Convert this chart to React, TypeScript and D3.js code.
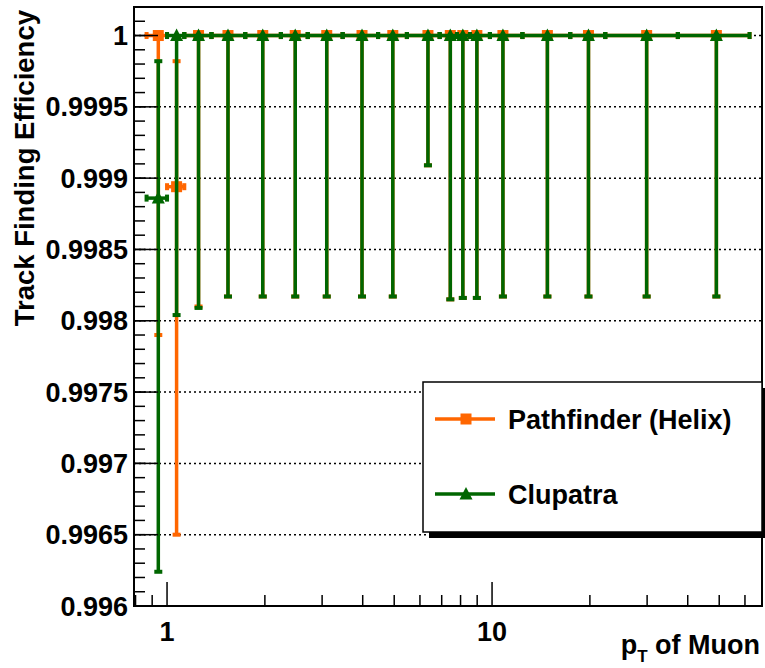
import React, { useRef, useEffect } from "react"
import * as d3 from "d3"

// pT bin centres and bin edges (GeV)
const ptValues = [0.94, 1.07, 1.25, 1.54, 1.97, 2.48, 3.1, 3.98, 4.95, 6.35, 7.44, 8.13, 8.98, 10.8, 14.8, 19.8, 29.9, 49]
const ptEdges = [0.865, 1.0, 1.13, 1.37, 1.74, 2.24, 2.71, 3.47, 4.46, 5.47, 6.9, 7.8, 8.55, 9.85, 12.4, 17.4, 22.3, 37.3, 62]

// Pathfinder (Helix)
const pfEff = [1, 0.99894, 1, 1, 1, 1, 1, 1, 1, 1, 1, 1, 1, 1, 1, 1, 1, 1]
const pfLow = [0.9979, 0.9965, 0.9981, 0.99817, 0.99817, 0.99817, 0.99817, 0.99817, 0.99817, 0.99909, 0.99815, 0.99816, 0.99816, 0.99817, 0.99817, 0.99817, 0.99817, 0.99817]
const pfHigh = [1, 0.99982, 1, 1, 1, 1, 1, 1, 1, 1, 1, 1, 1, 1, 1, 1, 1, 1]

// Clupatra
const clEff = [0.99886, 1, 1, 1, 1, 1, 1, 1, 1, 1, 1, 1, 1, 1, 1, 1, 1, 1]
const clLow = [0.99624, 0.99804, 0.99809, 0.99817, 0.99817, 0.99817, 0.99817, 0.99817, 0.99817, 0.99909, 0.99815, 0.99816, 0.99816, 0.99817, 0.99817, 0.99817, 0.99817, 0.99817]
const clHigh = [0.99982, 1, 1, 1, 1, 1, 1, 1, 1, 1, 1, 1, 1, 1, 1, 1, 1, 1]

const yTicks = [0.996, 0.9965, 0.997, 0.9975, 0.998, 0.9985, 0.999, 0.9995, 1]
const yTickLabels = ["0.996", "0.9965", "0.997", "0.9975", "0.998", "0.9985", "0.999", "0.9995", "1"]
const xTicks = [1, 10]
const xTickLabels = ["1", "10"]
const xMinorTicks = [0.8, 0.9, 2, 3, 4, 5, 6, 7, 8, 9, 20, 30, 40, 50, 60]

const ORANGE = "#ff6600"
const GREEN = "#006600"
const FONT = "'Liberation Sans', Arial, Helvetica, sans-serif"

const App = () => {
  const svgRef = useRef(null)

  useEffect(() => {
    const W = 765
    const H = 668
    const left = 134, right = 762, top = 7, bottom = 606

    const svg = d3.select(svgRef.current).attr("width", W).attr("height", H)
    svg.selectAll("*").remove()

    const x = d3.scaleLog().domain([0.7913, 67.7]).range([left, right])
    const y = d3.scaleLinear().domain([0.996, 1.0002]).range([bottom, top])

    svg.append("rect").attr("width", W).attr("height", H).attr("fill", "white")

    // grid
    svg.append("g")
      .selectAll("line")
      .data(yTicks)
      .enter()
      .append("line")
      .attr("x1", left).attr("x2", right)
      .attr("y1", (d) => y(d)).attr("y2", (d) => y(d))
      .attr("stroke", "black")
      .attr("stroke-width", 1.5)
      .attr("stroke-dasharray", "2,3")

    // data
    const drawSeries = (eff, lo, hi, color, marker) => {
      const g = svg.append("g")
      ptValues.forEach((pt, i) => {
        const cx = x(pt)
        const cy = y(eff[i])
        const x0 = x(ptEdges[i])
        const x1 = x(ptEdges[i + 1])
        // horizontal error bar
        g.append("line").attr("x1", x0).attr("x2", x1).attr("y1", cy).attr("y2", cy)
          .attr("stroke", color).attr("stroke-width", 3.5)
        g.append("rect").attr("x", x0 - 2).attr("y", cy - 3.5).attr("width", 4).attr("height", 7).attr("fill", color)
        g.append("rect").attr("x", x1 - 2).attr("y", cy - 3.5).attr("width", 4).attr("height", 7).attr("fill", color)
        // vertical error bar
        g.append("line").attr("x1", cx).attr("x2", cx).attr("y1", y(hi[i])).attr("y2", y(lo[i]))
          .attr("stroke", color).attr("stroke-width", 3.5)
        if (lo[i] < eff[i]) {
          g.append("rect").attr("x", cx - 4).attr("y", y(lo[i]) - 2).attr("width", 8).attr("height", 4).attr("fill", color)
        }
        if (hi[i] > eff[i]) {
          g.append("rect").attr("x", cx - 4).attr("y", y(hi[i]) - 2).attr("width", 8).attr("height", 4).attr("fill", color)
        }
        marker(g, cx, cy)
      })
    }

    const square = (g, cx, cy) =>
      g.append("rect").attr("x", cx - 5.5).attr("y", cy - 5.5).attr("width", 11).attr("height", 11).attr("fill", ORANGE)
    const triangle = (g, cx, cy) =>
      g.append("path").attr("d", `M${cx},${cy - 7}L${cx + 6.5},${cy + 5.5}L${cx - 6.5},${cy + 5.5}Z`).attr("fill", GREEN)

    drawSeries(pfEff, pfLow, pfHigh, ORANGE, square)
    drawSeries(clEff, clLow, clHigh, GREEN, triangle)

    // frame
    svg.append("rect")
      .attr("x", left).attr("y", top)
      .attr("width", right - left).attr("height", bottom - top)
      .attr("fill", "none").attr("stroke", "black").attr("stroke-width", 2)

    // y ticks
    const yMinor = d3.range(0, 43).map((i) => 0.996 + i * 0.0001)
    svg.append("g").selectAll("line").data(yMinor).enter().append("line")
      .attr("x1", left).attr("x2", left + 11)
      .attr("y1", (d) => y(d)).attr("y2", (d) => y(d))
      .attr("stroke", "black").attr("stroke-width", 1.5)
    svg.append("g").selectAll("line").data(yTicks).enter().append("line")
      .attr("x1", left).attr("x2", left + 24)
      .attr("y1", (d) => y(d)).attr("y2", (d) => y(d))
      .attr("stroke", "black").attr("stroke-width", 1.5)
    svg.append("g").selectAll("text").data(yTicks).enter().append("text")
      .attr("x", left - 6).attr("y", (d) => y(d) + 9.5)
      .attr("text-anchor", "end")
      .attr("font-family", FONT).attr("font-weight", "bold").attr("font-size", 27)
      .text((d, i) => yTickLabels[i])

    // x ticks
    svg.append("g").selectAll("line").data(xMinorTicks).enter().append("line")
      .attr("x1", (d) => x(d)).attr("x2", (d) => x(d))
      .attr("y1", bottom).attr("y2", bottom - 11)
      .attr("stroke", "black").attr("stroke-width", 1.5)
    svg.append("g").selectAll("line").data(xTicks).enter().append("line")
      .attr("x1", (d) => x(d)).attr("x2", (d) => x(d))
      .attr("y1", bottom).attr("y2", bottom - 24)
      .attr("stroke", "black").attr("stroke-width", 1.5)
    svg.append("g").selectAll("text").data(xTicks).enter().append("text")
      .attr("x", (d) => x(d)).attr("y", bottom + 35)
      .attr("text-anchor", "middle")
      .attr("font-family", FONT).attr("font-weight", "bold").attr("font-size", 27)
      .text((d, i) => xTickLabels[i])

    // axis titles
    svg.append("text")
      .attr("transform", `translate(34,10) rotate(-90)`)
      .attr("text-anchor", "end")
      .attr("font-family", FONT).attr("font-weight", "bold").attr("font-size", 27.5)
      .text("Track Finding Efficiency")

    const xt = svg.append("text")
      .attr("x", 760).attr("y", 654)
      .attr("text-anchor", "end")
      .attr("font-family", FONT).attr("font-weight", "bold").attr("font-size", 27)
    xt.append("tspan").text("p")
    xt.append("tspan").attr("dy", 8).attr("font-size", 17).text("T")
    xt.append("tspan").attr("dy", -8).text(" of Muon")

    // legend
    const lx = 423, ly = 382, lw = 339, lh = 150
    svg.append("rect").attr("x", lx + 6).attr("y", ly + 6).attr("width", lw).attr("height", lh).attr("fill", "black")
    svg.append("rect").attr("x", lx).attr("y", ly).attr("width", lw).attr("height", lh)
      .attr("fill", "white").attr("stroke", "black").attr("stroke-width", 1.5)

    const entries = [
      { label: "Pathfinder (Helix)", color: ORANGE, marker: square },
      { label: "Clupatra", color: GREEN, marker: triangle }
    ]
    entries.forEach((e, i) => {
      const ey = ly + 37 + i * 75
      svg.append("line").attr("x1", 435).attr("x2", 495).attr("y1", ey).attr("y2", ey)
        .attr("stroke", e.color).attr("stroke-width", 3.5)
      e.marker(svg, 466, ey)
      svg.append("text").attr("x", 508).attr("y", ey + 9.5)
        .attr("font-family", FONT).attr("font-weight", "bold").attr("font-size", 27)
        .text(e.label)
    })
  }, [])

  return (
    <div style={{ position: "absolute", left: 0, top: 0 }}>
      <svg ref={svgRef}></svg>
    </div>
  )
}

export default App
